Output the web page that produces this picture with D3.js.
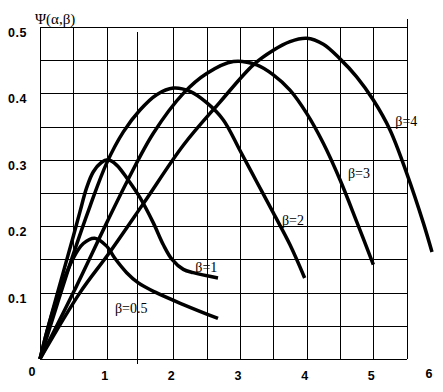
<!DOCTYPE html>
<html>
<head>
<meta charset="utf-8">
<script src="https://cdn.jsdelivr.net/npm/d3@7"></script>
<style>
  body { margin: 0; background: #fff; }
  svg { display: block; }
</style>
</head>
<body>
<div id="chart-area"></div>
<script>
// values
const alphaB05 = [0, 0.1, 0.25, 0.5, 0.65, 0.82, 1.0, 1.12, 1.3, 1.47, 1.72, 2.15, 2.67];
const psiB05   = [0, 0.04, 0.09, 0.152, 0.174, 0.182, 0.17, 0.152, 0.13, 0.115, 0.101, 0.082, 0.061];

const alphaB1 = [0, 0.1, 0.25, 0.5, 0.6, 0.7, 0.8, 0.92, 1.02, 1.15, 1.32, 1.5, 1.7, 1.85, 1.98, 2.15, 2.3, 2.67];
const psiB1   = [0, 0.04, 0.095, 0.185, 0.222, 0.258, 0.282, 0.296, 0.3, 0.292, 0.27, 0.243, 0.205, 0.172, 0.15, 0.135, 0.13, 0.122];

const alphaB2 = [0, 0.25, 0.5, 0.75, 1.0, 1.25, 1.5, 1.75, 2.0, 2.25, 2.5, 2.75, 3.0, 3.25, 3.5, 3.75, 3.97];
const psiB2   = [0, 0.08, 0.158, 0.23, 0.295, 0.342, 0.375, 0.398, 0.408, 0.403, 0.386, 0.36, 0.314, 0.267, 0.22, 0.172, 0.122];

const alphaB3 = [0, 0.5, 1.0, 1.32, 1.7, 2.15, 2.5, 2.9, 3.25, 3.5, 3.75, 4.0, 4.25, 4.5, 4.75, 5.0];
const psiB3   = [0, 0.1, 0.205, 0.27, 0.34, 0.4, 0.43, 0.448, 0.443, 0.428, 0.405, 0.37, 0.325, 0.27, 0.207, 0.142];

const alphaB4 = [0, 0.6, 1.04, 1.55, 2.15, 2.7, 3.2, 3.5, 3.75, 4.0, 4.25, 4.5, 4.75, 5.0, 5.25, 5.5, 5.75, 5.88];
const psiB4   = [0, 0.1, 0.16, 0.234, 0.322, 0.387, 0.443, 0.465, 0.478, 0.483, 0.474, 0.452, 0.425, 0.39, 0.345, 0.28, 0.205, 0.161];

const betaNames = ["β=0.5", "β=1", "β=2", "β=3", "β=4"];
const xTickLabels = ["0", "1", "2", "3", "4", "5", "6"];
const yTickLabels = ["0.1", "0.2", "0.3", "0.4", "0.5"];
// the scanned grid: one line (near 1.5) is a little off
const gridX = [0, 0.5, 1, 1.46, 2, 2.5, 3, 3.5, 4, 4.5, 5, 5.5];
const gridY = d3.range(0, 0.501, 0.05);

const width = 443;
const height = 392;

const x = d3.scaleLinear().domain([0, 6]).range([40, 440]);
const y = d3.scaleLinear().domain([0, 0.5]).range([359, 27]);

const svg = d3.select("#chart-area")
    .append("svg")
    .attr("width", width)
    .attr("height", height);

// grid
const grid = svg.append("g")
    .attr("stroke", "#000")
    .attr("stroke-width", 1)
    .attr("shape-rendering", "crispEdges");

grid.selectAll("line.h")
    .data(gridY)
    .enter().append("line")
    .attr("class", "h")
    .attr("x1", x(0)).attr("x2", x(5.5))
    .attr("y1", d => Math.round(y(d)) + 0.5)
    .attr("y2", d => Math.round(y(d)) + 0.5);

grid.selectAll("line.v")
    .data(gridX)
    .enter().append("line")
    .attr("class", "v")
    .attr("x1", d => Math.round(x(d)) + 0.5)
    .attr("x2", d => Math.round(x(d)) + 0.5)
    .attr("y1", d => d === 1.46 ? y(0.492) : d === 5.5 ? y(0.512) : y(0.5))
    .attr("y2", d => d === 1.46 ? y(-0.008) : y(0));

// curves
const series = [
    [alphaB05, psiB05],
    [alphaB1, psiB1],
    [alphaB2, psiB2],
    [alphaB3, psiB3],
    [alphaB4, psiB4]
];

const line = d3.line()
    .x(d => x(d[0]))
    .y(d => y(d[1]))
    .curve(d3.curveCatmullRom.alpha(0.5));

svg.append("g")
    .selectAll("path")
    .data(series)
    .enter().append("path")
    .attr("d", s => line(s[0].map((a, i) => [a, s[1][i]])))
    .attr("fill", "none")
    .attr("stroke", "#000")
    .attr("stroke-width", 3.5)
    .attr("stroke-linejoin", "round");

// curve labels (data coords of text start / baseline)
const labelAt = [[1.125, 0.069], [2.33, 0.131], [3.63, 0.202], [4.62, 0.273], [5.33, 0.351]];
svg.append("g")
    .selectAll("text")
    .data(betaNames)
    .enter().append("text")
    .attr("x", (d, i) => x(labelAt[i][0]))
    .attr("y", (d, i) => y(labelAt[i][1]))
    .attr("font-family", "'Liberation Serif', 'Times New Roman', serif")
    .attr("font-size", 14)
    .text(d => d);

// y tick labels
svg.append("g")
    .selectAll("text")
    .data(yTickLabels)
    .enter().append("text")
    .attr("x", 8)
    .attr("y", d => y(+d) + 10)
    .attr("font-family", "'Liberation Sans', Arial, sans-serif")
    .attr("font-weight", "bold")
    .attr("font-size", 12.5)
    .attr("letter-spacing", 0.6)
    .text(d => d);

// x tick labels
svg.append("g")
    .selectAll("text")
    .data(xTickLabels)
    .enter().append("text")
    .attr("x", d => d === "0" ? x(0) - 8 : d === "6" ? x(6) - 11 : x(+d) - 2)
    .attr("y", d => d === "0" ? 376 : d === "6" ? 378 : 380)
    .attr("text-anchor", "middle")
    .attr("font-family", "'Liberation Sans', Arial, sans-serif")
    .attr("font-weight", "bold")
    .attr("font-size", 12.5)
    .text(d => d);

// axis title
svg.append("text")
    .attr("x", 35)
    .attr("y", 24)
    .attr("font-family", "'Liberation Serif', 'Times New Roman', serif")
    .attr("font-size", 15)
    .text("Ψ(α,β)");
</script>
</body>
</html>
